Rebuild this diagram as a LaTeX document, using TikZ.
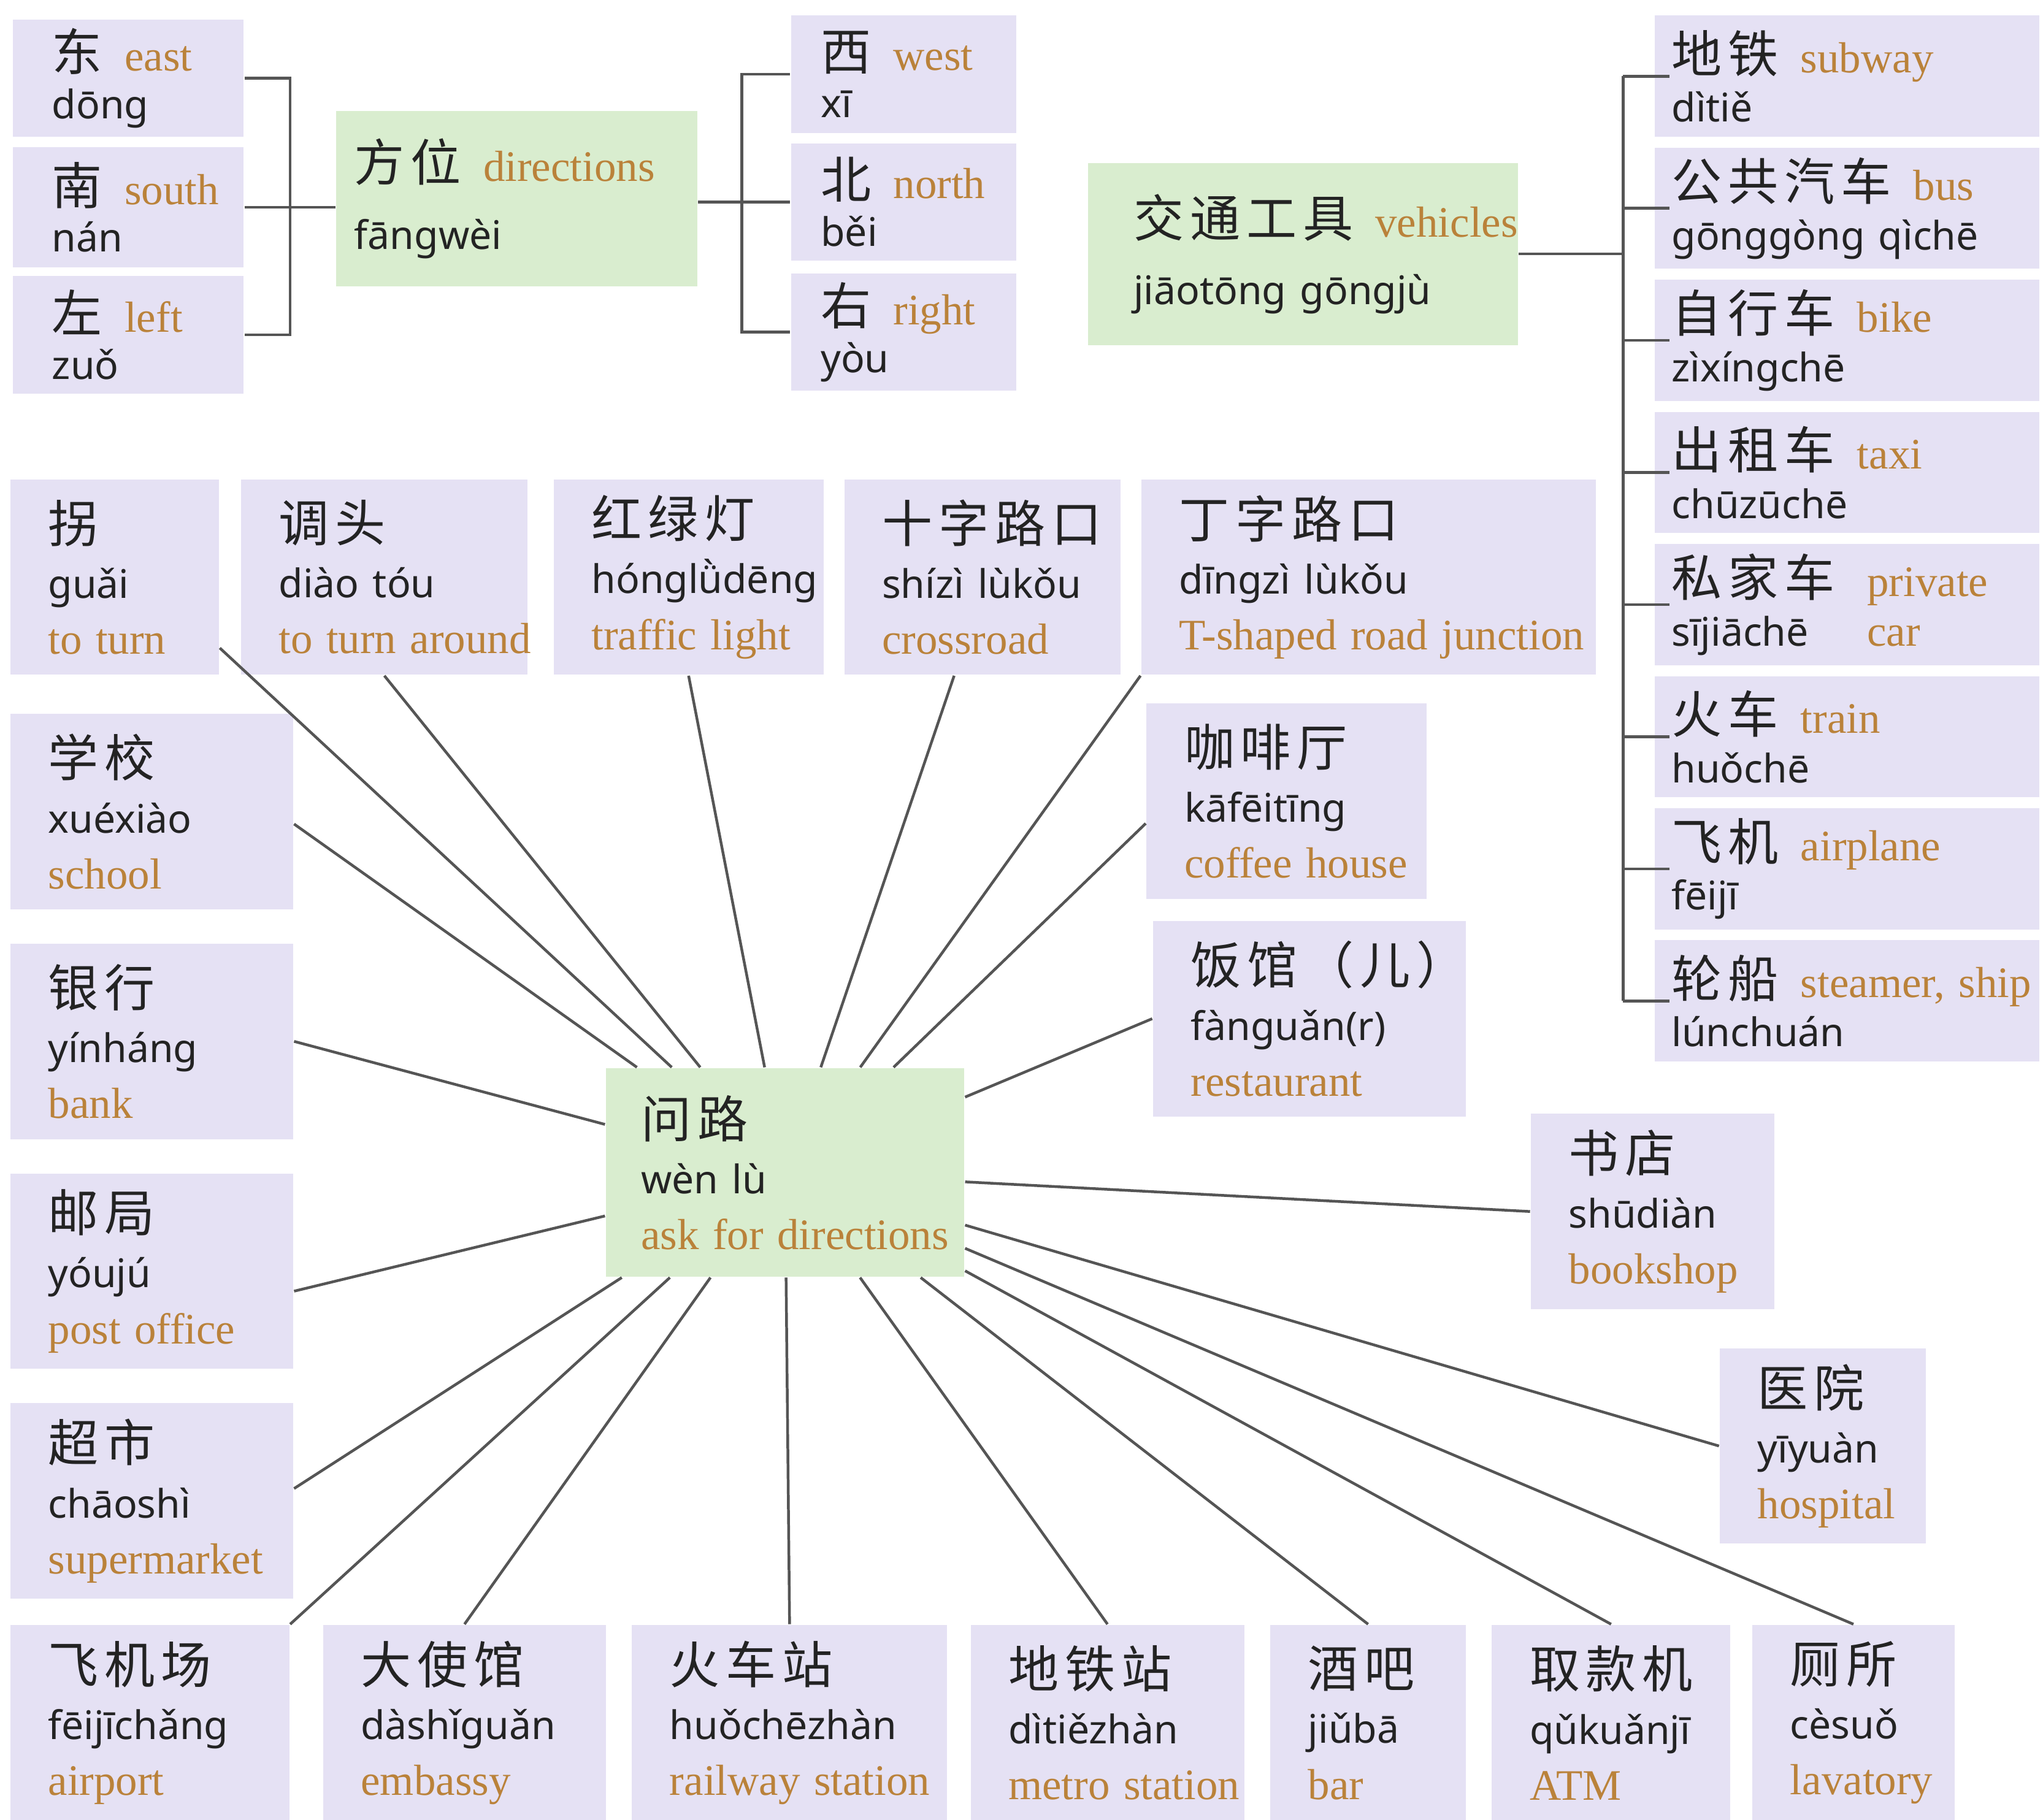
\documentclass[tikz,border=0pt]{standalone}
\usepackage{fontspec}
\setmainfont{Liberation Serif}
\newfontfamily\cjkfont[LetterSpace=12]{Noto Sans CJK SC}
\newfontfamily\pyfont{Noto Sans}
\usepackage{xcolor}
\definecolor{cardlilac}{RGB}{229,225,244}
\definecolor{cardgreen}{RGB}{217,237,207}
\definecolor{glossorange}{RGB}{186,130,58}
\definecolor{linkgray}{RGB}{85,85,85}
\definecolor{inkdark}{RGB}{35,35,35}
\usepackage{tikz}
\usetikzlibrary{positioning,calc}

\newcommand\hanzi[1]{\mbox{\cjkfont\fontsize{11}{12}\selectfont #1}}
\newcommand\pinyin[1]{\mbox{\pyfont\fontsize{8.6}{12}\selectfont #1}}
\newcommand\gloss[1]{\mbox{\color{glossorange}\fontsize{9.5}{12}\selectfont #1}}
\newcommand\gap{\nobreak\hspace{0.17cm}\nobreak}
\newcommand\tightlines{\lineskiplimit=-20pt\relax}

\begin{document}
\begin{tikzpicture}[
    link/.style={draw=linkgray, line width=0.6pt},
    card/.style={rectangle, fill=cardlilac, text=inkdark, inner xsep=0.29cm, inner ysep=0pt, minimum height=1.5cm, align=left, font=\fontsize{9}{12.2}\selectfont\tightlines},
    centrecard/.style={card, fill=cardgreen, minimum height=1.6cm},
    tag/.style={rectangle, fill=cardlilac, text=inkdark, inner ysep=0pt, minimum height=0.9cm, align=left, font=\fontsize{9}{10.4}\selectfont\tightlines},
    vtag/.style={tag, minimum height=0.93cm, inner xsep=0.13cm, text width=2.69cm, font=\fontsize{9}{10.8}\selectfont\tightlines},
    topic/.style={tag, fill=cardgreen, font=\fontsize{9}{14.8}\selectfont\tightlines}
]
\useasboundingbox (0,0) rectangle (15.68,-13.97);

% directions
\node[tag, inner xsep=0.30cm, text width=1.17cm] (dong) at (0.985,-0.60) {\hanzi{东}\gap\gloss{east}\\\pinyin{dōng}};
\node[tag, inner xsep=0.30cm, text width=1.17cm, minimum height=0.92cm] (nan) at (0.985,-1.59) {\hanzi{南}\gap\gloss{south}\\\pinyin{nán}};
\node[tag, inner xsep=0.30cm, text width=1.17cm] (zuo) at (0.985,-2.57) {\hanzi{左}\gap\gloss{left}\\\pinyin{zuǒ}};
\node[topic, inner xsep=0.14cm, text width=2.49cm, minimum height=1.35cm] (fangwei) at (3.965,-1.525) {\hanzi{方位}\gap\gloss{directions}\\\pinyin{fāngwèi}};
\node[tag, inner xsep=0.23cm, text width=1.27cm] (xi) at (6.935,-0.57) {\hanzi{西}\gap\gloss{west}\\\pinyin{xī}};
\node[tag, inner xsep=0.23cm, text width=1.27cm] (bei) at (6.935,-1.55) {\hanzi{北}\gap\gloss{north}\\\pinyin{běi}};
\node[tag, inner xsep=0.23cm, text width=1.27cm] (you) at (6.935,-2.55) {\hanzi{右}\gap\gloss{right}\\\pinyin{yòu}};

% vehicles
\node[topic, inner xsep=0.35cm, text width=2.60cm, minimum height=1.40cm] (vehicles) at (10.00,-1.95) {\hanzi{交通工具}\gap\gloss{vehicles}\\\pinyin{jiāotōng gōngjù}};
\node[vtag] (ditie) at (14.175,-0.585) {\hanzi{地铁}\gap\gloss{subway}\\\pinyin{dìtiě}};
\node[vtag, below=0.07cm of ditie] (gonggong) {\hanzi{公共汽车}\gap\gloss{bus}\\\pinyin{gōnggòng qìchē}};
\node[vtag, below=0.07cm of gonggong] (zixingche) {\hanzi{自行车}\gap\gloss{bike}\\\pinyin{zìxíngchē}};
\node[vtag, below=0.07cm of zixingche] (chuzuche) {\hanzi{出租车}\gap\gloss{taxi}\\\pinyin{chūzūchē}};
\node[vtag, below=0.07cm of chuzuche] (sijiache) {\makebox[1.5cm][l]{\hanzi{私家车}}\gloss{private}\\\makebox[1.5cm][l]{\pinyin{sījiāchē}}\gloss{car}};
\node[vtag, below=0.07cm of sijiache] (huoche) {\hanzi{火车}\gap\gloss{train}\\\pinyin{huǒchē}};
\node[vtag, below=0.07cm of huoche] (feiji) {\hanzi{飞机}\gap\gloss{airplane}\\\pinyin{fēijī}};
\node[vtag, below=0.07cm of feiji] (lunchuan) {\hanzi{轮船}\gap\gloss{steamer, ship}\\\pinyin{lúnchuán}};

% places round the centre
\node[card, text width=1.02cm] (guai) at (0.88,-4.43) {\hanzi{拐}\\\pinyin{guǎi}\\\gloss{to turn}};
\node[card, text width=1.62cm] (tiaotou) at (2.95,-4.43) {\hanzi{调头}\\\pinyin{diào tóu}\\\gloss{to turn around}};
\node[card, text width=1.49cm] (honglvdeng) at (5.285,-4.43) {\hanzi{红绿灯}\\\pinyin{hónglǜdēng}\\\gloss{traffic light}};
\node[card, text width=1.54cm] (shizi) at (7.54,-4.43) {\hanzi{十字路口}\\\pinyin{shízì lùkǒu}\\\gloss{crossroad}};
\node[card, text width=2.91cm] (dingzi) at (10.505,-4.43) {\hanzi{丁字路口}\\\pinyin{dīngzì lùkǒu}\\\gloss{T-shaped road junction}};

\node[card, text width=1.59cm] (xuexiao) at (1.165,-6.23) {\hanzi{学校}\\\pinyin{xuéxiào}\\\gloss{school}};
\node[card, text width=1.59cm, below=0.25cm of xuexiao] (yinhang) {\hanzi{银行}\\\pinyin{yínháng}\\\gloss{bank}};
\node[card, text width=1.59cm, below=0.25cm of yinhang] (youju) {\hanzi{邮局}\\\pinyin{yóujú}\\\gloss{post office}};
\node[card, text width=1.59cm, below=0.25cm of youju] (chaoshi) {\hanzi{超市}\\\pinyin{chāoshì}\\\gloss{supermarket}};

\node[card, text width=1.56cm] (feijichang) at (1.15,-13.225) {\hanzi{飞机场}\\\pinyin{fēijīchǎng}\\\gloss{airport}};
\node[card, text width=1.59cm] (dashiguan) at (3.565,-13.225) {\hanzi{大使馆}\\\pinyin{dàshǐguǎn}\\\gloss{embassy}};
\node[card, text width=1.84cm] (huochezhan) at (6.06,-13.225) {\hanzi{火车站}\\\pinyin{huǒchēzhàn}\\\gloss{railway station}};
\node[card, text width=1.52cm] (ditiezhan) at (8.50,-13.225) {\hanzi{地铁站}\\\pinyin{dìtiězhàn}\\\gloss{metro station}};
\node[card, text width=0.92cm] (jiuba) at (10.50,-13.225) {\hanzi{酒吧}\\\pinyin{jiǔbā}\\\gloss{bar}};
\node[card, text width=1.25cm] (qukuanji) at (12.365,-13.225) {\hanzi{取款机}\\\pinyin{qǔkuǎnjī}\\\gloss{ATM}};
\node[card, text width=0.97cm] (cesuo) at (14.225,-13.225) {\hanzi{厕所}\\\pinyin{cèsuǒ}\\\gloss{lavatory}};

\node[card, text width=1.57cm] (kafeiting) at (9.875,-6.15) {\hanzi{咖啡厅}\\\pinyin{kāfēitīng}\\\gloss{coffee house}};
\node[card, text width=1.82cm] (fanguan) at (10.05,-7.82) {\hanzi{饭馆（儿）}\\\pinyin{fànguǎn(r)}\\\gloss{restaurant}};
\node[card, text width=1.29cm] (shudian) at (12.685,-9.30) {\hanzi{书店}\\\pinyin{shūdiàn}\\\gloss{bookshop}};
\node[card, text width=1.00cm] (yiyuan) at (13.99,-11.10) {\hanzi{医院}\\\pinyin{yīyuàn}\\\gloss{hospital}};

\node[centrecard, text width=2.21cm, inner xsep=0.27cm] (wenlu) at (6.025,-9.00) {\hanzi{问路}\\\pinyin{wèn lù}\\\gloss{ask for directions}};

% brackets
\draw[link] (dong.east) -- ++(0.35,0) |- (zuo.east);
\draw[link] (nan.east) -- (nan.east -| fangwei.west);
\draw[link] (xi.west) -- ++(-0.37,0) |- (you.west);
\draw[link] (fangwei.east |- bei.west) -- (bei.west);
\draw[link] (vehicles.east) -- ++(0.80,0) coordinate (vjoint);
\draw[link] (vjoint |- ditie.west) -- (vjoint |- lunchuan.west);
\foreach \v in {ditie,gonggong,zixingche,chuzuche,sijiache,huoche,feiji,lunchuan}
    \draw[link] (vjoint |- \v.west) -- ([xshift=1.2mm]\v.west);

% spokes
\foreach \p/\a in {guai/-34, tiaotou/south, honglvdeng/south, shizi/-106, dingzi/south west,
    kafeiting/189, fanguan/west, shudian/west, yiyuan/west, cesuo/north, qukuanji/north,
    jiuba/north, ditiezhan/north, huochezhan/north, dashiguan/north, feijichang/north east,
    chaoshi/5, youju/-8, yinhang/east, xuexiao/-5}
    \draw[link] (wenlu) -- (\p.\a);

\end{tikzpicture}
\end{document}
